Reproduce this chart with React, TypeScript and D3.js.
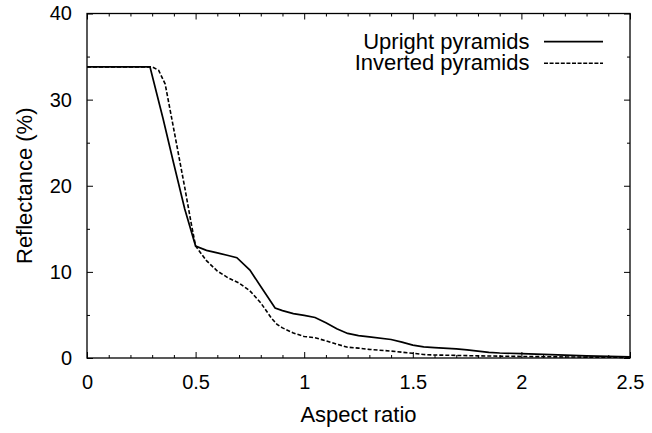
import { useEffect, useRef } from 'react';
import * as d3 from 'd3';

// aspect ratio (x) and reflectance in % for the two texturings
const uprightX = [0, 0.1, 0.2, 0.29, 0.3, 0.35, 0.4, 0.45, 0.5, 0.55, 0.6, 0.65, 0.69, 0.75, 0.8, 0.866, 0.9, 0.95, 1.0, 1.05, 1.1, 1.15, 1.2, 1.25, 1.3, 1.4, 1.45, 1.5, 1.55, 1.6, 1.7, 1.75, 1.8, 1.85, 1.9, 2.0, 2.1, 2.2, 2.3, 2.4, 2.5];
const uprightR = [33.8, 33.8, 33.8, 33.8, 32.8, 27.8, 22.5, 17.3, 13.0, 12.5, 12.2, 11.9, 11.65, 10.2, 8.3, 5.8, 5.5, 5.15, 4.95, 4.7, 4.1, 3.4, 2.85, 2.6, 2.45, 2.15, 1.85, 1.5, 1.3, 1.2, 1.05, 0.95, 0.8, 0.65, 0.58, 0.5, 0.42, 0.33, 0.25, 0.18, 0.12];

const invertedX = [0, 0.1, 0.2, 0.3, 0.33, 0.36, 0.4, 0.45, 0.48, 0.5, 0.55, 0.6, 0.65, 0.7, 0.75, 0.8, 0.85, 0.875, 0.9, 0.95, 1.0, 1.05, 1.1, 1.15, 1.2, 1.25, 1.3, 1.4, 1.5, 1.55, 1.6, 1.7, 1.8, 2.0, 2.2, 2.5];
const invertedR = [33.8, 33.8, 33.8, 33.8, 33.4, 31.8, 26.5, 19.8, 15.6, 13.0, 11.3, 10.1, 9.3, 8.7, 7.8, 6.4, 4.6, 3.9, 3.5, 2.9, 2.5, 2.35, 2.0, 1.6, 1.25, 1.15, 1.0, 0.8, 0.55, 0.4, 0.35, 0.3, 0.25, 0.18, 0.12, 0.07];

const xTicks = [0, 0.5, 1, 1.5, 2, 2.5];
const yTicks = [0, 10, 20, 30, 40];
const seriesNames = ['Upright pyramids', 'Inverted pyramids'];

const FONT = '"Liberation Sans", Arial, Helvetica, sans-serif';

export default function App() {
  const svgRef = useRef<SVGSVGElement>(null);

  useEffect(() => {
    if (!svgRef.current) return;
    const svg = d3.select(svgRef.current);
    svg.selectAll('*').remove();

    const width = 652;
    const height = 433;
    const margin = { top: 13.5, right: 22, bottom: 75, left: 87 };
    const innerWidth = width - margin.left - margin.right;
    const innerHeight = height - margin.top - margin.bottom;

    svg.append('rect').attr('width', width).attr('height', height).attr('fill', '#fff');

    const g = svg.append('g').attr('transform', `translate(${margin.left},${margin.top})`);

    const x = d3.scaleLinear().domain([0, 2.5]).range([0, innerWidth]);
    const y = d3.scaleLinear().domain([0, 40]).range([innerHeight, 0]);

    const xMinor = d3.range(0, 26).map(i => i / 10).filter(v => !xTicks.includes(v));
    const yMinor = [5, 15, 25, 35];

    const styleAxis = (sel: d3.Selection<SVGGElement, unknown, null, undefined>) => {
      sel.select('.domain').remove();
      sel.selectAll('line').attr('stroke', '#000').attr('stroke-width', 1);
      sel.selectAll('text').style('font-family', FONT).style('font-size', '20px').attr('fill', '#000');
    };

    // bottom axis with labels
    g.append('g')
      .attr('transform', `translate(0,${innerHeight})`)
      .call(d3.axisBottom(x).tickValues(xTicks).tickSize(-6).tickPadding(17).tickFormat(d => `${d}`))
      .call(styleAxis);
    g.append('g')
      .attr('transform', `translate(0,${innerHeight})`)
      .call(d3.axisBottom(x).tickValues(xMinor).tickSize(-3).tickFormat(() => ''))
      .call(styleAxis);
    // top mirror ticks
    g.append('g')
      .call(d3.axisTop(x).tickValues(xTicks).tickSize(-6).tickFormat(() => ''))
      .call(styleAxis);
    g.append('g')
      .call(d3.axisTop(x).tickValues(xMinor).tickSize(-3).tickFormat(() => ''))
      .call(styleAxis);

    // left axis with labels
    g.append('g')
      .call(d3.axisLeft(y).tickValues(yTicks).tickSize(-6).tickPadding(15).tickFormat(d => `${d}`))
      .call(styleAxis);
    g.append('g')
      .call(d3.axisLeft(y).tickValues(yMinor).tickSize(-3).tickFormat(() => ''))
      .call(styleAxis);
    // right mirror ticks
    g.append('g')
      .attr('transform', `translate(${innerWidth},0)`)
      .call(d3.axisRight(y).tickValues(yTicks).tickSize(-6).tickFormat(() => ''))
      .call(styleAxis);
    g.append('g')
      .attr('transform', `translate(${innerWidth},0)`)
      .call(d3.axisRight(y).tickValues(yMinor).tickSize(-3).tickFormat(() => ''))
      .call(styleAxis);

    // frame
    g.append('rect')
      .attr('width', innerWidth)
      .attr('height', innerHeight)
      .attr('fill', 'none')
      .attr('stroke', '#000')
      .attr('stroke-width', 1.3);

    const line = d3.line<[number, number]>()
      .x(d => x(d[0]))
      .y(d => y(d[1]));

    const upright = uprightX.map((v, i) => [v, uprightR[i]] as [number, number]);
    const inverted = invertedX.map((v, i) => [v, invertedR[i]] as [number, number]);

    g.append('path')
      .datum(inverted)
      .attr('fill', 'none')
      .attr('stroke', '#000')
      .attr('stroke-width', 1.6)
      .attr('stroke-dasharray', '4,2')
      .attr('d', line);

    g.append('path')
      .datum(upright)
      .attr('fill', 'none')
      .attr('stroke', '#000')
      .attr('stroke-width', 1.7)
      .attr('d', line);

    // legend
    const legend = svg.append('g');
    const rows = [
      { name: seriesNames[0], dash: null, ly: 41.7, ty: 48.5 },
      { name: seriesNames[1], dash: '4,1.6', ly: 63.3, ty: 70 },
    ];
    rows.forEach(r => {
      legend.append('text')
        .attr('x', 529.5)
        .attr('y', r.ty)
        .attr('text-anchor', 'end')
        .style('font-family', FONT)
        .style('font-size', '22px')
        .attr('fill', '#000')
        .text(r.name);
      legend.append('line')
        .attr('x1', 544)
        .attr('x2', 603)
        .attr('y1', r.ly)
        .attr('y2', r.ly)
        .attr('stroke', '#000')
        .attr('stroke-width', r.dash ? 1.6 : 1.7)
        .attr('stroke-dasharray', r.dash);
    });

    // axis titles
    svg.append('text')
      .attr('transform', `translate(31.5,${margin.top + innerHeight / 2}) rotate(-90)`)
      .attr('text-anchor', 'middle')
      .style('font-family', FONT)
      .style('font-size', '22px')
      .attr('fill', '#000')
      .text('Reflectance (%)');

    svg.append('text')
      .attr('x', margin.left + innerWidth / 2)
      .attr('y', 422)
      .attr('text-anchor', 'middle')
      .style('font-family', FONT)
      .style('font-size', '22px')
      .attr('fill', '#000')
      .text('Aspect ratio');
  }, []);

  return (
    <svg
      ref={svgRef}
      width={652}
      height={433}
      style={{ position: 'absolute', left: 0, top: 0, display: 'block' }}
    />
  );
}
